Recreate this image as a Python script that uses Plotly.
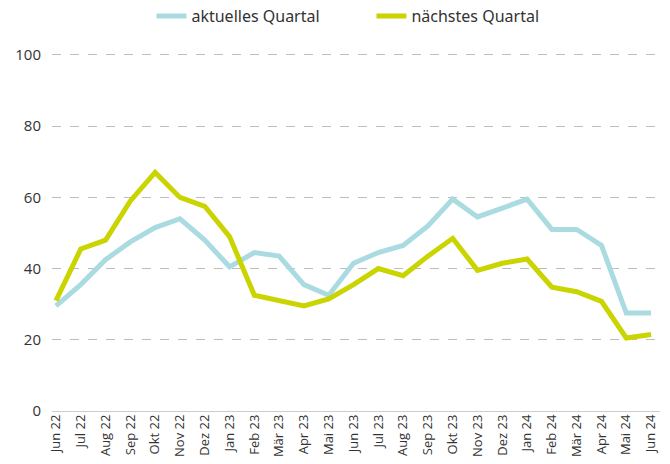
import plotly.graph_objects as go

months = ["Jun 22", "Jul 22", "Aug 22", "Sep 22", "Okt 22", "Nov 22", "Dez 22", "Jan 23",
          "Feb 23", "Mär 23", "Apr 23", "Mai 23", "Jun 23", "Jul 23", "Aug 23", "Sep 23",
          "Okt 23", "Nov 23", "Dez 23", "Jan 24", "Feb 24", "Mär 24", "Apr 24", "Mai 24", "Jun 24"]

aktuelles = [29.5, 35.5, 42.5, 47.5, 51.5, 54, 48, 40.5, 44.5, 43.5, 35.5, 32.5, 41.5,
             44.5, 46.5, 52, 59.5, 54.5, 57, 59.5, 51, 51, 46.5, 27.5, 27.5]
naechstes = [31, 45.5, 48, 59, 67, 60, 57.5, 49, 32.5, 31, 29.5, 31.5, 35.5,
             40, 38, 43.5, 48.5, 39.5, 41.5, 42.7, 34.8, 33.5, 30.8, 20.5, 21.5]

y_ticks = [0, 20, 40, 60, 80, 100]

idx = list(range(len(months)))

fig = go.Figure()
fig.add_trace(go.Scatter(x=idx, y=aktuelles, mode="lines", name="aktuelles Quartal",
                         line=dict(color="#a9dbe0", width=5)))
fig.add_trace(go.Scatter(x=idx, y=naechstes, mode="lines", name="nächstes Quartal",
                         line=dict(color="#c9d400", width=5)))

fig.update_layout(
    width=662, height=456,
    margin=dict(l=44, r=10, t=43, b=53),
    paper_bgcolor="white", plot_bgcolor="white",
    font=dict(family="Open Sans", color="#333333", size=13),
    legend=dict(orientation="h", x=0.549, xanchor="center", xref="container",
                y=1 - 8 / 456, yanchor="middle", yref="container",
                font=dict(family="Noto Sans", size=16),
                entrywidth=175, traceorder="normal"),
    xaxis=dict(tickmode="array", tickvals=idx, ticktext=months, tickangle=-90,
               range=[-0.16, 24.36], showgrid=False, zeroline=False, showline=False,
               tickfont=dict(size=13), automargin=False),
    yaxis=dict(range=[0, 101.12], tickvals=y_ticks, showgrid=True, gridcolor="#bdbdbd",
               griddash="dash", gridwidth=1, zeroline=True, zerolinecolor="#cccccc",
               zerolinewidth=1, tickfont=dict(size=15), ticklabelstandoff=10,
               automargin=False),
    showlegend=True,
)

fig.write_html("out.html")
